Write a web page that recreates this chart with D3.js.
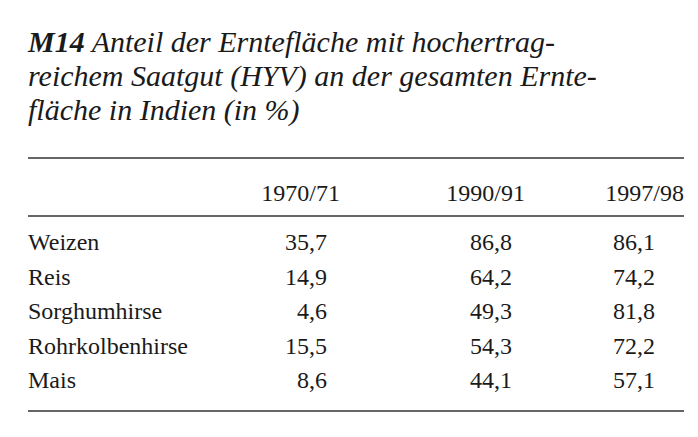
<!DOCTYPE html>
<html><head><meta charset="utf-8">
<script src="https://cdn.jsdelivr.net/npm/d3@7"></script>
<style>body{margin:0;background:#fff}</style></head>
<body><svg id="c" width="698" height="437"></svg>
<script>
const titleLines = ["Anteil der Erntefläche mit hochertrag-","reichem Saatgut (HYV) an der gesamten Ernte-","fläche in Indien (in %)"];
const years = ["1970/71","1990/91","1997/98"];
const crops = ["Weizen","Reis","Sorghumhirse","Rohrkolbenhirse","Mais"];
const v1970 = [35.7,14.9,4.6,15.5,8.6];
const v1990 = [86.8,64.2,49.3,54.3,44.1];
const v1997 = [86.1,74.2,81.8,72.2,57.1];
const series = [v1970,v1990,v1997];

const svg = d3.select("#c");
const font = "'Liberation Serif', 'Times New Roman', 'DejaVu Serif', serif";
const fmt = v => d3.format(".1f")(v).replace(".", ",");

const t = svg.append("text").attr("x",28).attr("font-family",font).attr("font-style","italic").attr("font-size",30).attr("fill","#1a1a1a");
titleLines.forEach((l,i)=>{
  const ts = t.append("tspan").attr("x",28).attr("y",52+i*34);
  if(i===0){ ts.append("tspan").attr("font-weight","bold").text("M14"); ts.append("tspan").text(" "+l); }
  else ts.text(l);
});

const x = d3.scaleOrdinal().domain(years).range([340,525,684]);
const xNum = d3.scaleOrdinal().domain(years).range([327,512,655]);
const y = d3.scalePoint().domain(crops).range([250,388]);

const rule = (yy)=>svg.append("line").attr("x1",28).attr("x2",684).attr("y1",yy).attr("y2",yy).attr("stroke","#333").attr("stroke-width",1.3);
rule(158); rule(216); rule(411);

const fs = 24;
svg.selectAll("text.h").data(years).join("text").attr("class","h")
  .attr("x",d=>x(d)).attr("y",201).attr("text-anchor","end")
  .attr("font-family",font).attr("font-size",fs).attr("fill","#1a1a1a").text(d=>d);

svg.selectAll("text.r").data(crops).join("text").attr("class","r")
  .attr("x",28).attr("y",d=>y(d)).attr("font-family",font).attr("font-size",fs).attr("fill","#1a1a1a").text(d=>d);

years.forEach((yr,j)=>{
  svg.selectAll("text.v"+j).data(series[j]).join("text").attr("class","v"+j)
    .attr("x",xNum(yr)).attr("y",(d,i)=>y(crops[i])).attr("text-anchor","end")
    .attr("font-family",font).attr("font-size",fs).attr("fill","#1a1a1a").text(fmt);
});
</script></body></html>
